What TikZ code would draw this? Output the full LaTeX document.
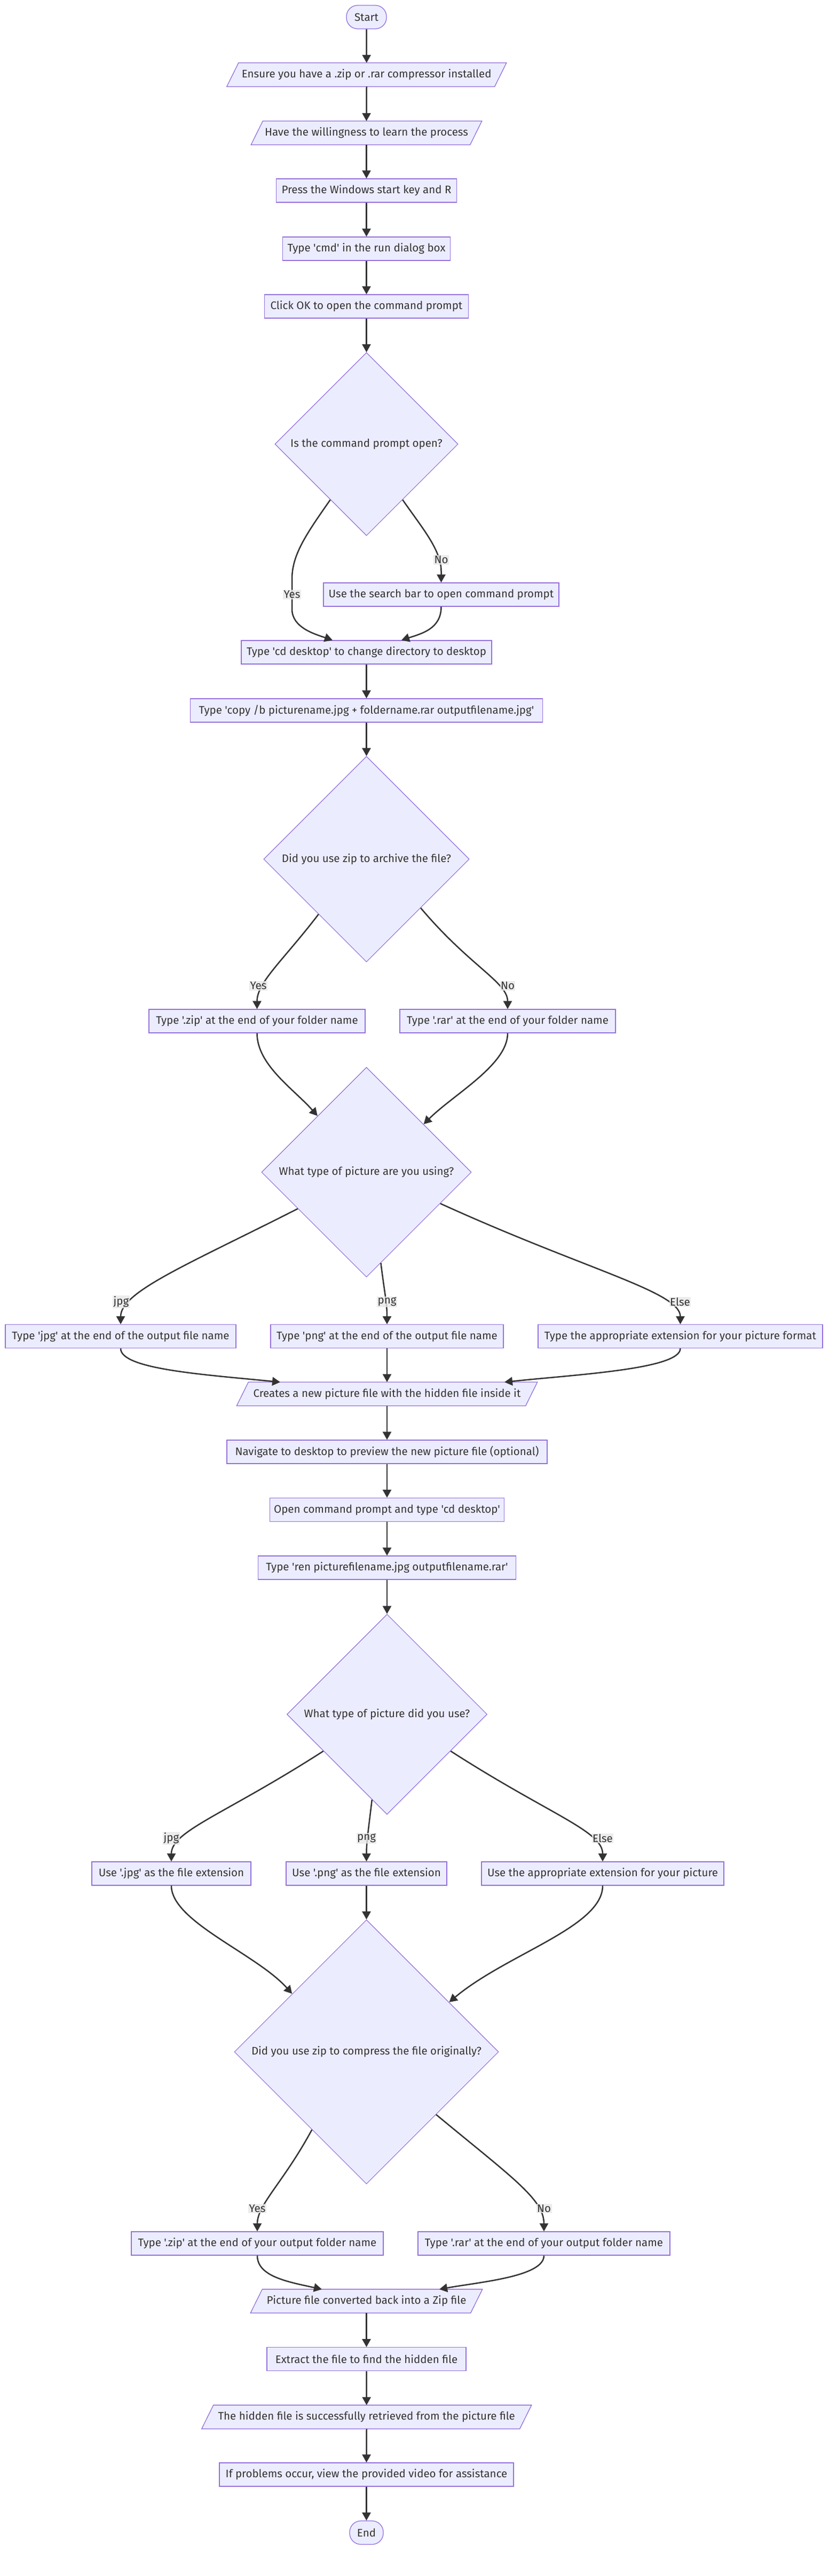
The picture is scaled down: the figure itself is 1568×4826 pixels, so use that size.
\documentclass[tikz,border=0pt]{standalone}
\usepackage{fontspec}
\setmainfont{Fira Sans}[Ligatures=TeXOff]
\usetikzlibrary{shapes.geometric,arrows.meta,calc,backgrounds}
\definecolor{nodefill}{HTML}{ECECFF}
\definecolor{nodeline}{HTML}{9370DB}
\definecolor{txt}{HTML}{333333}
\definecolor{edgecol}{HTML}{333333}
\definecolor{lblbg}{HTML}{E8E8E8}
\newcommand\paraback[1]{%
  \begin{scope}[on background layer]
    \filldraw[fill=nodefill,draw=nodeline,line width=1.3pt]
      ($(#1.south west)+(-11,0)$) -- ($(#1.north west)+(11,0)$) --
      ($(#1.north east)+(11,0)$) -- ($(#1.south east)+(-11,0)$) -- cycle;
  \end{scope}}
\begin{document}
\begin{tikzpicture}[x=1pt,y=-1pt,
  font=\fontsize{20.5}{24}\selectfont, text=txt,
  box/.style={rectangle,draw=nodeline,fill=nodefill,line width=1.3pt,minimum height=44pt,inner sep=0pt},
  term/.style={box,rounded corners=21pt},
  paranode/.style={rectangle,minimum height=44pt,inner sep=0pt},
  dia/.style={diamond,aspect=1,draw=nodeline,fill=nodefill,line width=1.1pt,inner sep=0pt},
  arr/.style={draw=edgecol,line width=2.5pt,-{Triangle[length=15pt,width=16pt]}},
  elabel/.style={fill=lblbg,fill opacity=0.8,text opacity=1,inner sep=1.5pt}]
\begin{scope}[on background layer]
  \fill[white] (0,0) rectangle (1568,4826);
\end{scope}
\useasboundingbox (0,0) rectangle (1568,4826);

% nodes
\node[term,minimum width=75pt] (start) at (686.5,32) {Start};
\node[paranode,minimum width=501.5pt] (ensure) at (686.75,140) {Ensure you have a .zip or .rar compressor installed};
\paraback{ensure}
\node[paranode,minimum width=410pt] (will) at (686.5,249) {Have the willingness to learn the process};
\paraback{will}
\node[box,minimum width=338pt] (press) at (686.5,357) {Press the Windows start key and R};
\node[box,minimum width=314pt] (cmd) at (686.5,466) {Type 'cmd' in the run dialog box};
\node[box,minimum width=382pt] (ok) at (686.5,574) {Click OK to open the command prompt};
\node[dia,minimum size=343pt,label={center:Is the command prompt open?}] (d1) at (686.5,832) {};
\node[box,minimum width=441pt] (search) at (826.5,1114) {Use the search bar to open command prompt};
\node[box,minimum width=469pt] (cdd) at (686.5,1222) {Type 'cd desktop' to change directory to desktop};
\node[box,minimum width=660pt] (copy) at (686.5,1331) {Type 'copy /b picturename.jpg + foldername.rar outputfilename.jpg'};
\node[dia,minimum size=385pt,label={center:Did you use zip to archive the file?}] (d2) at (686.5,1609.5) {};
\node[box,minimum width=405pt] (zipA) at (481.5,1913) {Type '.zip' at the end of your folder name};
\node[box,minimum width=404pt] (rarA) at (951,1913) {Type '.rar' at the end of your folder name};
\node[dia,minimum size=393pt,label={center:What type of picture are you using?}] (d3) at (686.5,2196) {};
\node[box,minimum width=432pt] (jpgA) at (226,2503.6) {Type 'jpg' at the end of the output file name};
\node[box,minimum width=436pt] (pngA) at (725,2503.6) {Type 'png' at the end of the output file name};
\node[box,minimum width=533pt] (elseA) at (1274.5,2503.6) {Type the appropriate extension for your picture format};
\node[paranode,minimum width=541pt] (creates) at (725,2611.5) {Creates a new picture file with the hidden file inside it};
\paraback{creates}
\node[box,minimum width=600pt] (nav) at (725,2720) {Navigate to desktop to preview the new picture file (optional)};
\node[box,minimum width=439pt] (opencmd) at (725,2828.5) {Open command prompt and type 'cd desktop'};
\node[box,minimum width=483pt] (ren) at (725,2937) {Type 'ren picturefilename.jpg outputfilename.rar'};
\node[dia,minimum size=375pt,label={center:What type of picture did you use?}] (d4) at (725,3211.7) {};
\node[box,minimum width=298pt] (usejpg) at (321,3510) {Use '.jpg' as the file extension};
\node[box,minimum width=301pt] (usepng) at (686.5,3510) {Use '.png' as the file extension};
\node[box,minimum width=454pt] (useelse) at (1129,3510) {Use the appropriate extension for your picture};
\node[dia,minimum size=495pt,label={center:Did you use zip to compress the file originally?}] (d5) at (686.5,3844) {};
\node[box,minimum width=472pt] (zipB) at (482,4203) {Type '.zip' at the end of your output folder name};
\node[box,minimum width=472pt] (rarB) at (1019,4203) {Type '.rar' at the end of your output folder name};
\node[paranode,minimum width=412pt] (conv) at (686.5,4311) {Picture file converted back into a Zip file};
\paraback{conv}
\node[box,minimum width=373pt] (extract) at (686.5,4419.7) {Extract the file to find the hidden file};
\node[paranode,minimum width=595.5pt] (hidden) at (686.75,4528) {The hidden file is successfully retrieved from the picture file};
\paraback{hidden}
\node[box,minimum width=551pt] (problems) at (686.5,4636) {If problems occur, view the provided video for assistance};
\node[term,minimum width=63pt] (end) at (686.5,4744.7) {End};

% edges
\draw[arr] (start.south) -- (ensure.north);
\draw[arr] (ensure.south) -- (will.north);
\draw[arr] (will.south) -- (press.north);
\draw[arr] (press.south) -- (cmd.north);
\draw[arr] (cmd.south) -- (ok.north);
\draw[arr] (ok.south) -- (d1.north);
\draw[arr] (d1.237.3) .. controls (572,1003) and (547,1040) .. (547,1085) -- (547,1141) .. controls (547,1176) and (590,1188) .. ([xshift=-63.5pt]cdd.north);
\draw[arr] (d1.303.1) .. controls (790,988) and (826.5,1030) .. (826.5,1070) -- (search.north);
\draw[arr] (search.south) .. controls (826.5,1178) and (790,1187) .. ([xshift=65.5pt]cdd.north);
\draw[arr] (cdd.south) -- (copy.north);
\draw[arr] (copy.south) -- (d2.north);
\draw[arr] (d2.229.6) .. controls (530,1800) and (481.5,1840) .. (zipA.north);
\draw[arr] (d2.318.1) .. controls (880,1810) and (951,1840) .. (rarA.north);
\draw[arr] (zipA.south) .. controls (481.5,1995) and (550,2040) .. (d3.131.1);
\draw[arr] (rarA.south) .. controls (951,1995) and (850,2050) .. (d3.40.3);
\draw[arr] (d3.208) .. controls (350,2370) and (226,2420) .. (jpgA.north);
\draw[arr] (d3.279.1) .. controls (720,2420) and (725,2440) .. (pngA.north);
\draw[arr] (d3.337.2) .. controls (1100,2380) and (1274.5,2420) .. (elseA.north);
\draw[arr] (jpgA.south) .. controls (226,2565) and (380,2575) .. ([xshift=-200pt]creates.north);
\draw[arr] (pngA.south) -- (creates.north);
\draw[arr] (elseA.south) .. controls (1274.5,2565) and (1080,2575) .. ([xshift=220pt]creates.north);
\draw[arr] (creates.south) -- (nav.north);
\draw[arr] (nav.south) -- (opencmd.north);
\draw[arr] (opencmd.south) -- (ren.north);
\draw[arr] (ren.south) -- (d4.north);
\draw[arr] (d4.210.4) .. controls (420,3400) and (321,3430) .. (usejpg.north);
\draw[arr] (d4.260.5) .. controls (690,3430) and (686.5,3450) .. (usepng.north);
\draw[arr] (d4.330.1) .. controls (1030,3400) and (1129,3430) .. (useelse.north);
\draw[arr] (usejpg.south) .. controls (321,3600) and (480,3660) .. (d5.142.6);
\draw[arr] (usepng.south) -- (d5.north);
\draw[arr] (useelse.south) .. controls (1129,3610) and (950,3660) .. (d5.31.9);
\draw[arr] (d5.235.3) .. controls (530,4090) and (482,4130) .. (zipB.north);
\draw[arr] (d5.318.8) .. controls (960,4080) and (1019,4120) .. (rarB.north);
\draw[arr] (zipB.south) .. controls (482,4265) and (540,4275) .. ([xshift=-83.5pt]conv.north);
\draw[arr] (rarB.south) .. controls (1019,4265) and (900,4275) .. ([xshift=136.5pt]conv.north);
\draw[arr] (conv.south) -- (extract.north);
\draw[arr] (extract.south) -- (hidden.north);
\draw[arr] (hidden.south) -- (problems.north);
\draw[arr] (problems.south) -- (end.north);

% edge labels
\node[elabel] (l1) at (547,1114) {Yes};
\node[elabel] (l2) at (826.5,1049) {No};
\node[elabel] (l3) at (484,1847) {Yes};
\node[elabel] (l4) at (951,1847) {No};
\node[elabel] (l5) at (227,2439) {jpg};
\node[elabel] (l6) at (725,2439) {png};
\node[elabel] (l7) at (1274,2439) {Else};
\node[elabel] (l8) at (321,3444) {jpg};
\node[elabel] (l9) at (686.5,3444) {png};
\node[elabel] (l10) at (1129,3444) {Else};
\node[elabel] (l11) at (482,4137.5) {Yes};
\node[elabel] (l12) at (1019,4137.5) {No};
\end{tikzpicture}
\end{document}
